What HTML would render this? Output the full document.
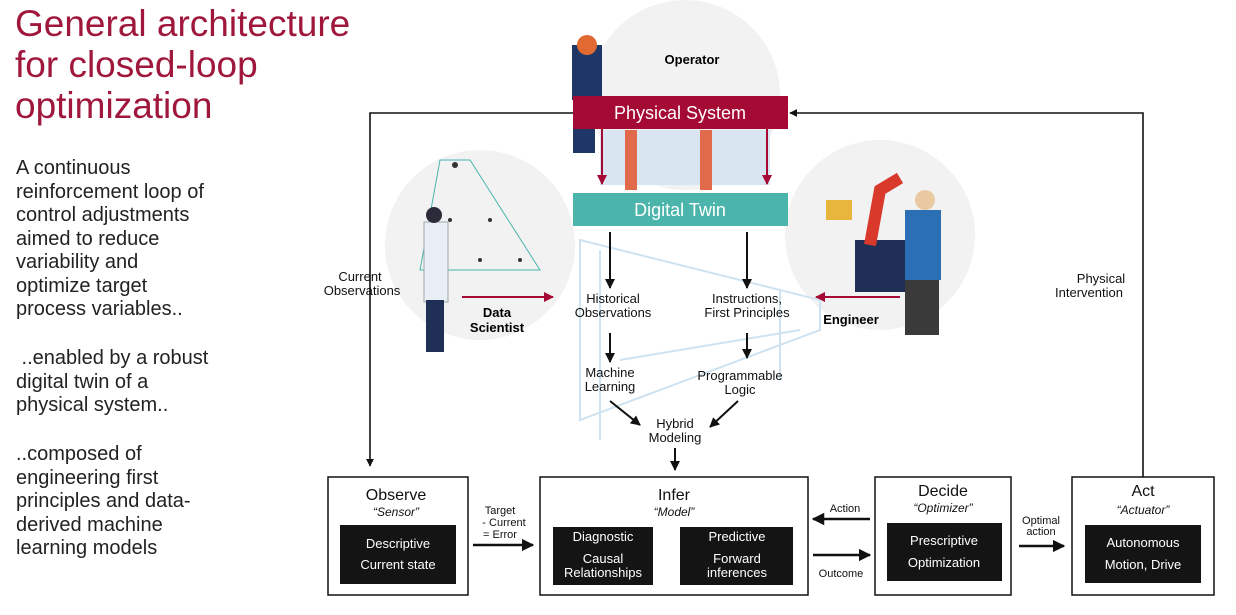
<!DOCTYPE html>
<html><head><meta charset="utf-8"><style>
body{margin:0;width:1236px;height:615px;background:#fff;overflow:hidden;font-family:"Liberation Sans",sans-serif;}
.t{position:absolute;}
</style></head><body>
<svg width="1236" height="615" style="position:absolute;left:0;top:0" font-family="Liberation Sans, sans-serif">
<defs>
<marker id="a" viewBox="0 0 10 10" refX="9" refY="5" markerWidth="5" markerHeight="5" orient="auto"><path d="M0,0L10,5L0,10z" fill="#111"/></marker>
<marker id="r" viewBox="0 0 10 10" refX="9" refY="5" markerWidth="5" markerHeight="5" orient="auto"><path d="M0,0L10,5L0,10z" fill="#a50a35"/></marker>
</defs>
<circle cx="685" cy="95" r="95" fill="#f2f2f3"/>
<circle cx="480" cy="245" r="95" fill="#f2f2f3"/>
<circle cx="880" cy="235" r="95" fill="#f2f2f3"/>
<g stroke="#cfe2f0" stroke-width="2" fill="none">
<path d="M580 240 L820 300 L820 330 L580 420 Z"/>
<path d="M600 250 L600 440 M780 290 L780 380 M620 360 L800 330"/>
</g>
<rect x="600" y="130" width="170" height="55" fill="#d9e6f2"/>
<rect x="625" y="130" width="12" height="60" fill="#e06a4a"/>
<rect x="700" y="130" width="12" height="60" fill="#e06a4a"/>
<rect x="572" y="45" width="30" height="55" fill="#1f3766"/>
<circle cx="587" cy="45" r="10" fill="#e06a32"/>
<rect x="573" y="128" width="22" height="25" fill="#1f3766"/>
<path d="M440 160 L420 270 L540 270 L470 160 Z" fill="none" stroke="#4bb5ab" stroke-width="1"/>
<g fill="#333"><circle cx="455" cy="165" r="3"/><circle cx="430" cy="260" r="2"/><circle cx="480" cy="260" r="2"/><circle cx="520" cy="260" r="2"/><circle cx="450" cy="220" r="2"/><circle cx="490" cy="220" r="2"/></g>
<rect x="424" y="222" width="24" height="80" fill="#e9eef5" stroke="#9aa" stroke-width="1"/>
<circle cx="434" cy="215" r="8" fill="#2b2b3a"/>
<rect x="426" y="300" width="18" height="52" fill="#1f2f55"/>
<rect x="855" y="240" width="55" height="52" fill="#1f2f55"/>
<path d="M870 245 L880 190 L900 178" stroke="#d8392b" stroke-width="12" fill="none"/>
<rect x="826" y="200" width="26" height="20" fill="#e8b63c"/>
<rect x="905" y="210" width="36" height="70" fill="#2b6fb5"/>
<circle cx="925" cy="200" r="10" fill="#e8c9a0"/>
<rect x="905" y="280" width="34" height="55" fill="#3a3a3a"/>
<path d="M573 113 H370 V466" stroke="#111" stroke-width="1.6" fill="none" marker-end="url(#a)"/>
<path d="M1143 477 V113 H790" stroke="#111" stroke-width="1.6" fill="none" marker-end="url(#a)"/>
<rect x="573" y="96" width="215" height="33" fill="#a50a35"/>
<text x="680" y="119" text-anchor="middle" fill="#fff" font-size="18">Physical System</text>
<line x1="602" y1="129" x2="602" y2="184" stroke="#a50a35" stroke-width="2" marker-end="url(#r)"/>
<line x1="767" y1="129" x2="767" y2="184" stroke="#a50a35" stroke-width="2" marker-end="url(#r)"/>
<rect x="573" y="193" width="215" height="33" fill="#4bb5ab"/>
<text x="680" y="216" text-anchor="middle" fill="#fff" font-size="18">Digital Twin</text>
<text x="692" y="64" text-anchor="middle" font-size="13" font-weight="bold">Operator</text>
<text x="497" y="317" text-anchor="middle" font-size="13" font-weight="bold">Data</text>
<text x="497" y="332" text-anchor="middle" font-size="13" font-weight="bold">Scientist</text>
<text x="851" y="324" text-anchor="middle" font-size="13" font-weight="bold">Engineer</text>
<line x1="462" y1="297" x2="553" y2="297" stroke="#a50a35" stroke-width="2" marker-end="url(#r)"/>
<line x1="900" y1="297" x2="816" y2="297" stroke="#a50a35" stroke-width="2" marker-end="url(#r)"/>
<g stroke="#111" stroke-width="2" marker-end="url(#a)">
<line x1="610" y1="232" x2="610" y2="288"/>
<line x1="747" y1="232" x2="747" y2="288"/>
<line x1="610" y1="333" x2="610" y2="362"/>
<line x1="747" y1="333" x2="747" y2="358"/>
<line x1="610" y1="401" x2="640" y2="425"/>
<line x1="738" y1="401" x2="710" y2="427"/>
<line x1="675" y1="448" x2="675" y2="470"/>
</g>
<g font-size="13" text-anchor="middle" fill="#111">
<text x="613" y="303">Historical</text><text x="613" y="317">Observations</text>
<text x="747" y="303">Instructions,</text><text x="747" y="317">First Principles</text>
<text x="610" y="377">Machine</text><text x="610" y="391">Learning</text>
<text x="740" y="380">Programmable</text><text x="740" y="394">Logic</text>
<text x="675" y="428">Hybrid</text><text x="675" y="442">Modeling</text>
<text x="360" y="281">Current</text><text x="362" y="295">Observations</text>
<text x="1101" y="283">Physical</text><text x="1089" y="297">Intervention</text>
</g>
<g fill="#fff" stroke="#111" stroke-width="1.5">
<rect x="328" y="477" width="140" height="118"/>
<rect x="540" y="477" width="268" height="118"/>
<rect x="875" y="477" width="136" height="118"/>
<rect x="1072" y="477" width="142" height="118"/>
</g>
<g fill="#141414">
<rect x="340" y="525" width="116" height="59"/>
<rect x="553" y="527" width="100" height="58"/>
<rect x="680" y="527" width="113" height="58"/>
<rect x="887" y="523" width="115" height="58"/>
<rect x="1085" y="525" width="116" height="58"/>
</g>
<g text-anchor="middle" fill="#111">
<text x="396" y="500" font-size="16">Observe</text><text x="396" y="516" font-size="12" font-style="italic">“Sensor”</text>
<text x="674" y="500" font-size="16">Infer</text><text x="674" y="516" font-size="12" font-style="italic">“Model”</text>
<text x="943" y="496" font-size="16">Decide</text><text x="943" y="512" font-size="12" font-style="italic">“Optimizer”</text>
<text x="1143" y="496" font-size="16">Act</text><text x="1143" y="514" font-size="12" font-style="italic">“Actuator”</text>
</g>
<g text-anchor="middle" fill="#fff" font-size="13">
<text x="398" y="548">Descriptive</text><text x="398" y="569">Current state</text>
<text x="603" y="541">Diagnostic</text><text x="603" y="563">Causal</text><text x="603" y="577">Relationships</text>
<text x="737" y="541">Predictive</text><text x="737" y="563">Forward</text><text x="737" y="577">inferences</text>
<text x="944" y="545">Prescriptive</text><text x="944" y="567">Optimization</text>
<text x="1143" y="547">Autonomous</text><text x="1143" y="569">Motion, Drive</text>
</g>
<g font-size="11" fill="#111" text-anchor="middle">
<text x="500" y="514">Target</text><text x="504" y="526">- Current</text><text x="500" y="538">= Error</text>
<text x="845" y="512">Action</text><text x="841" y="577">Outcome</text>
<text x="1041" y="524">Optimal</text><text x="1041" y="535">action</text>
</g>
<g stroke="#111" stroke-width="2.5" marker-end="url(#a)">
<line x1="473" y1="545" x2="533" y2="545"/>
<line x1="870" y1="519" x2="813" y2="519"/>
<line x1="813" y1="555" x2="870" y2="555"/>
<line x1="1019" y1="546" x2="1064" y2="546"/>
</g>
</svg>
<div class="t" style="left:15px;top:3px;color:#a0173c;font-size:37px;line-height:41px;">General architecture<br>for closed-loop<br>optimization</div>
<div class="t" style="left:16px;top:157px;color:#222;font-size:20px;line-height:23.5px;">A continuous<br>reinforcement loop of<br>control adjustments<br>aimed to reduce<br>variability and<br>optimize target<br>process variables..</div>
<div class="t" style="left:16px;top:347px;color:#222;font-size:20px;line-height:23.5px;">&nbsp;..enabled by a robust<br>digital twin of a<br>physical system..</div>
<div class="t" style="left:16px;top:443px;color:#222;font-size:20px;line-height:23.5px;">..composed of<br>engineering first<br>principles and data-<br>derived machine<br>learning models</div>
</body></html>
